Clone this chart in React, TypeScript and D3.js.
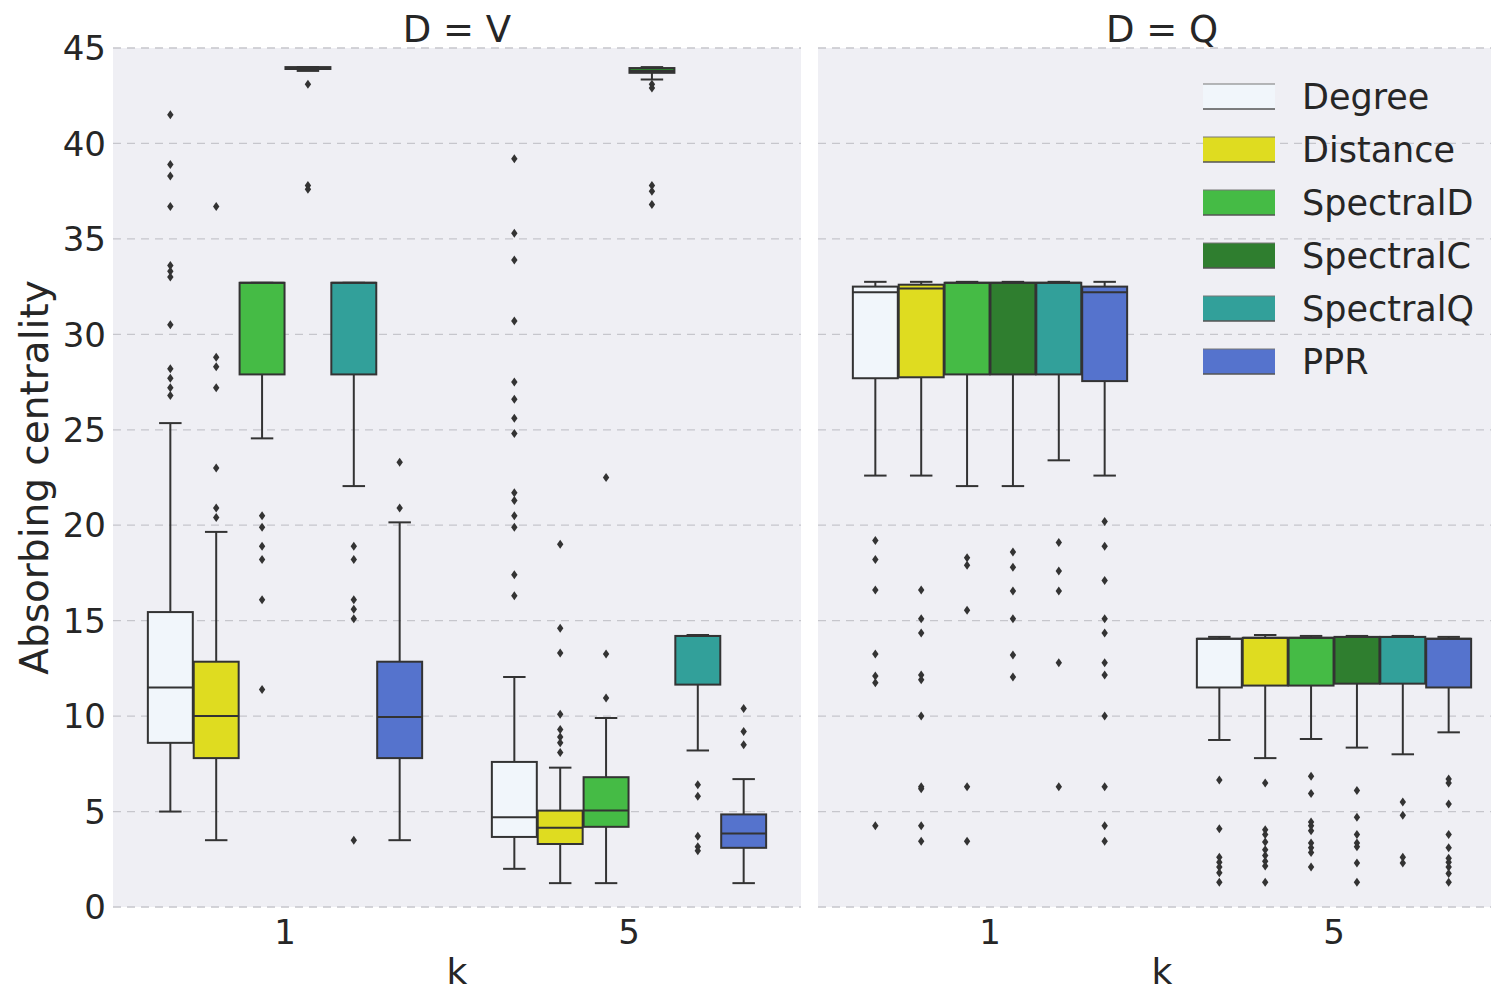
import React from 'react';
import * as d3 from 'd3';

// categories
const methods = ["Degree", "Distance", "SpectralD", "SpectralC", "SpectralQ", "PPR"];
const kValues = ["1", "5"];
const panelTitles = ["D = V", "D = Q"];
const yTicks = [0, 5, 10, 15, 20, 25, 30, 35, 40, 45];

// box stats per method: [whisker low, q1, median, q3, whisker high]
const statsV_k1 = [
  [5.0, 8.6, 11.5, 15.45, 25.35],
  [3.5, 7.8, 10.0, 12.85, 19.65],
  [24.55, 27.9, 32.7, 32.7, 32.7],
  [43.8, 43.9, 43.95, 44.0, 44.0],
  [22.05, 27.9, 32.7, 32.7, 32.7],
  [3.5, 7.8, 9.95, 12.85, 20.15],
];
const statsV_k5 = [
  [2.0, 3.67, 4.7, 7.6, 12.05],
  [1.25, 3.3, 4.15, 5.05, 7.3],
  [1.25, 4.2, 5.05, 6.8, 9.9],
  [43.35, 43.7, 43.8, 43.95, 44.0],
  [8.2, 11.65, 14.2, 14.2, 14.25],
  [1.25, 3.1, 3.85, 4.85, 6.7],
];
const statsQ_k1 = [
  [22.6, 27.7, 32.2, 32.5, 32.75],
  [22.6, 27.75, 32.4, 32.6, 32.75],
  [22.05, 27.9, 32.7, 32.7, 32.75],
  [22.05, 27.9, 32.7, 32.7, 32.75],
  [23.4, 27.9, 32.7, 32.7, 32.75],
  [22.6, 27.55, 32.2, 32.5, 32.75],
];
const statsQ_k5 = [
  [8.75, 11.5, 14.05, 14.05, 14.15],
  [7.8, 11.6, 14.1, 14.1, 14.25],
  [8.8, 11.6, 14.1, 14.1, 14.2],
  [8.35, 11.7, 14.15, 14.15, 14.2],
  [8.0, 11.7, 14.15, 14.15, 14.2],
  [9.15, 11.5, 14.05, 14.05, 14.15],
];

// outliers per method
const outV_k1 = [
  [41.5, 38.9, 38.3, 36.7, 33.6, 33.3, 33.0, 30.5, 28.2, 27.7, 27.2, 26.8],
  [36.7, 28.8, 28.3, 27.2, 23.0, 20.9, 20.4],
  [20.5, 19.9, 18.9, 18.2, 16.1, 11.4],
  [43.1, 37.8, 37.6],
  [18.9, 18.2, 16.1, 15.6, 15.1, 3.5],
  [23.3, 20.9],
];
const outV_k5 = [
  [39.2, 35.3, 33.9, 30.7, 27.5, 26.6, 25.6, 24.8, 21.7, 21.3, 20.5, 19.9, 17.4, 16.3],
  [19.0, 14.6, 13.3, 10.1, 9.3, 8.9, 8.6, 8.1],
  [22.5, 13.25, 10.95],
  [43.1, 42.9, 37.8, 37.5, 36.8],
  [6.4, 5.8, 3.7, 3.15, 2.95],
  [10.4, 9.2, 8.5],
];
const outQ_k1 = [
  [19.2, 18.2, 16.6, 13.25, 12.1, 11.75, 4.25],
  [16.6, 15.1, 14.35, 12.15, 11.9, 10.0, 6.3, 6.2, 4.25, 3.45],
  [18.3, 17.9, 15.55, 6.3, 3.45],
  [18.6, 17.8, 16.55, 15.1, 13.2, 12.05],
  [19.1, 17.6, 16.55, 12.8, 6.3],
  [20.2, 18.9, 17.1, 15.1, 14.35, 12.8, 12.15, 10.0, 6.3, 4.25, 3.45],
];
const outQ_k5 = [
  [6.65, 4.1, 2.6, 2.35, 2.1, 1.8, 1.3],
  [6.5, 4.05, 3.8, 3.4, 3.0, 2.7, 2.4, 2.15, 1.3],
  [6.85, 5.95, 4.45, 4.25, 4.0, 3.35, 3.1, 2.85, 2.1],
  [6.1, 4.7, 3.8, 3.35, 3.15, 2.3, 1.3],
  [5.5, 4.8, 2.6, 2.3],
  [6.7, 6.5, 5.4, 3.8, 3.1, 2.55, 2.35, 2.1, 1.75, 1.3],
];

const colors = ["#f1f6fb", "#dfdc20", "#45bb45", "#2f7e2f", "#32a09a", "#5573cd"];
const lineColor = "#333";
const font = "DejaVu Sans, sans-serif";

const W = 1491, H = 992;
const top = 48, bottom = 907;
const panelX = [[113, 801], [818, 1506]];
const panelStats = [[statsV_k1, statsV_k5], [statsQ_k1, statsQ_k5]];
const panelOut = [[outV_k1, outV_k5], [outQ_k1, outQ_k5]];

const y = d3.scaleLinear().domain([0, 45]).range([bottom, top]);

const diamond = (cx: number, cy: number) =>
  `M${cx},${cy - 4.5}L${cx + 3.2},${cy}L${cx},${cy + 4.5}L${cx - 3.2},${cy}Z`;

const Panel = ({ p }: { p: number }) => {
  const [x0, x1] = panelX[p];
  const xk = d3.scaleBand().domain(kValues).range([x0, x1]).padding(0);
  const bw = xk.bandwidth();
  const xh = d3.scaleBand().domain(methods).range([bw * 0.1, bw * 0.9]).padding(0);
  const hw = xh.bandwidth();
  const boxW = hw * 0.98;
  return (
    <g>
      <rect x={x0} y={top} width={x1 - x0} height={bottom - top} fill="#efeff4" />
      {yTicks.map(t => (
        <line key={t} x1={x0} x2={x1} y1={y(t)} y2={y(t)} stroke="#c6c6cc" strokeWidth={1.3} strokeDasharray="8,6" />
      ))}
      <text x={(x0 + x1) / 2} y={42} textAnchor="middle" fontSize={37} fontFamily={font} fill="#262626">{panelTitles[p]}</text>
      {kValues.map((k, ki) => {
        const base = xk(k)!;
        return (
          <g key={k}>
            <text x={base + bw / 2} y={944} textAnchor="middle" fontSize={34} fontFamily={font} fill="#262626">{k}</text>
            {methods.map((m, mi) => {
              const [lo, q1, med, q3, hi] = panelStats[p][ki][mi];
              const cx = base + xh(m)! + hw / 2;
              const cap = boxW / 2;
              return (
                <g key={m}>
                  <line x1={cx} x2={cx} y1={y(q3)} y2={y(hi)} stroke={lineColor} strokeWidth={2} />
                  <line x1={cx} x2={cx} y1={y(q1)} y2={y(lo)} stroke={lineColor} strokeWidth={2} />
                  <line x1={cx - cap / 2} x2={cx + cap / 2} y1={y(hi)} y2={y(hi)} stroke={lineColor} strokeWidth={2} />
                  <line x1={cx - cap / 2} x2={cx + cap / 2} y1={y(lo)} y2={y(lo)} stroke={lineColor} strokeWidth={2} />
                  <rect x={cx - boxW / 2} y={y(q3)} width={boxW} height={Math.max(y(q1) - y(q3), 0.5)} fill={colors[mi]} stroke={lineColor} strokeWidth={2} />
                  <line x1={cx - boxW / 2} x2={cx + boxW / 2} y1={y(med)} y2={y(med)} stroke={lineColor} strokeWidth={2} />
                  {panelOut[p][ki][mi].map((v, i) => (
                    <path key={i} d={diamond(cx, y(v))} fill="#333" />
                  ))}
                </g>
              );
            })}
          </g>
        );
      })}
      <text x={(x0 + x1) / 2} y={984} textAnchor="middle" fontSize={36} fontFamily={font} fill="#262626">k</text>
    </g>
  );
};

const App = () => {
  return (
    <svg width={W} height={H} style={{ position: 'absolute', left: 0, top: 0, background: '#fff' }}>
      <Panel p={0} />
      <Panel p={1} />
      {yTicks.map(t => (
        <text key={t} x={106} y={y(t)} dy="0.36em" textAnchor="end" fontSize={34} fontFamily={font} fill="#262626">{t}</text>
      ))}
      <text transform={`translate(48,${(top + bottom) / 2}) rotate(-90)`} textAnchor="middle" fontSize={39} fontFamily={font} fill="#262626">Absorbing centrality</text>
      {methods.map((m, i) => (
        <g key={m}>
          <rect x={1203} y={84 + i * 53} width={72} height={25} fill={colors[i]} />
          <line x1={1203} x2={1275} y1={84 + i * 53} y2={84 + i * 53} stroke="#777" strokeWidth={1} />
          <line x1={1203} x2={1275} y1={109 + i * 53} y2={109 + i * 53} stroke="#555" strokeWidth={1.5} />
          <text x={1302} y={96 + i * 53} dy="0.36em" fontSize={35} fontFamily={font} fill="#262626">{m}</text>
        </g>
      ))}
    </svg>
  );
};

export default App;
